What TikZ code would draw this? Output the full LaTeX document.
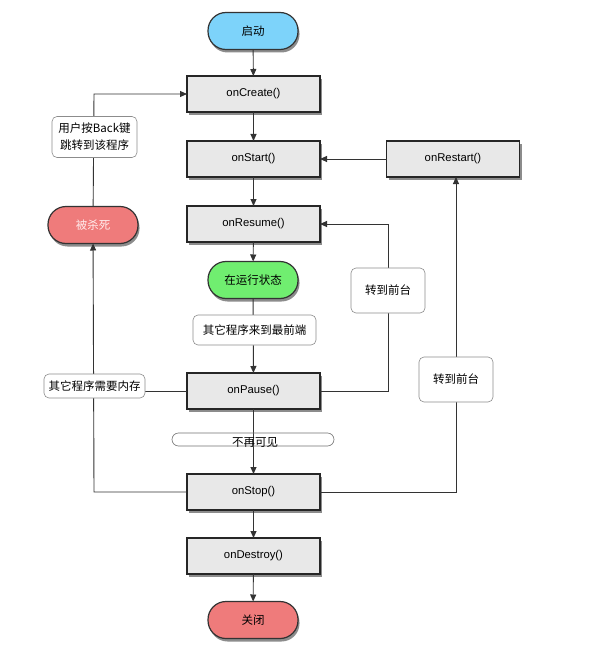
\documentclass[tikz,border=0pt]{standalone}
\usepackage{fontspec}
\setmainfont{Liberation Sans}
\newfontfamily\cjk{Noto Sans CJK SC}
\usetikzlibrary{shadows,arrows.meta}
\definecolor{boxgray}{HTML}{E8E8E8}
\definecolor{startblue}{HTML}{7DD3FA}
\definecolor{rungreen}{HTML}{70EE70}
\definecolor{endred}{HTML}{EF7B7B}
\definecolor{linegray}{HTML}{333333}
\tikzset{
  every node/.style={inner sep=0pt, outer sep=0pt},
  method/.style={draw=black!85, line width=1.2pt, fill=boxgray, minimum width=133pt, minimum height=36pt,
    font=\fontsize{11.3}{13}\selectfont,
    drop shadow={shadow xshift=2pt, shadow yshift=-3pt, fill=black, opacity=0.45}},
  pill/.style={draw=black!80, line width=1.2pt, rounded corners=18pt, minimum width=90pt, minimum height=37pt,
    font=\cjk\fontsize{11.5}{13}\selectfont,
    drop shadow={shadow xshift=1.5pt, shadow yshift=-3pt, fill=black, opacity=0.45}},
  lbl/.style={draw=black!45, line width=0.6pt, fill=white, rounded corners=5pt,
    font=\cjk\fontsize{11.5}{17}\selectfont, align=center},
  conn/.style={draw=linegray, line width=0.9pt},
  arr/.style={conn, -{Triangle[length=7pt,width=6pt]}},
}
\begin{document}
\begin{tikzpicture}[x=1pt,y=-1pt]
\useasboundingbox[fill=white] (0,0) rectangle (601,655);
% main column
\node[pill, fill=startblue] (start) at (253,31) {启动};
\node[method] (create) at (253.5,94) {onCreate()};
\node[method] (startm) at (253.5,159) {onStart()};
\node[method] (restart) at (453,159) {onRestart()};
\node[method] (resume) at (253.5,224) {onResume()};
\node[pill, fill=rungreen] (running) at (253,280) {在运行状态};
\node[method] (pause) at (253.5,391) {onPause()};
\node[method] (stop) at (253.5,492) {onStop()};
\node[method] (destroy) at (253.5,556) {onDestroy()};
\node[pill, fill=endred] (close) at (253,620) {关闭};
\node[pill, fill=endred, text=white!92!red] (killed) at (93,225) {被杀死};
% vertical chain
\draw[arr] (start) -- (create);
\draw[arr] (create) -- (startm);
\draw[arr] (startm) -- (resume);
\draw[arr] (resume) -- (running);
\draw[arr] (running) -- (pause);
\draw[arr] (pause) -- (stop);
\draw[arr] (stop) -- (destroy);
\draw[arr] (destroy) -- (close);
\draw[arr] (restart) -- (startm);
% loops
\coordinate (lkTop) at (94,94);
\coordinate (lkBot) at (94,492);
\coordinate (lkMid) at (94,391);
\coordinate (mrTop) at (388,224);
\coordinate (mrBot) at (388,391);
\coordinate (rtBot) at (456,492);
\draw[arr] (killed) -- (lkTop) -- (create);
\draw[arr] (stop) -- (lkBot) -- (killed);
\draw[conn] (pause) -- (lkMid);
\draw[arr] (pause) -- (mrBot) -- (mrTop) -- (resume);
\draw[arr] (stop) -- (rtBot) -- (rtBot |- restart.south);
% labels
\node[lbl, minimum width=85pt, minimum height=41pt] (lbback) at (94.5,137) {用户按Back键\\跳转到该程序};
\node[lbl, minimum width=123pt, minimum height=30pt] (lbfront) at (254.5,330) {其它程序来到最前端};
\node[lbl, minimum width=101pt, minimum height=24pt] (lbmem) at (94.5,386) {其它程序需要内存};
\node[lbl, minimum width=74pt, minimum height=45pt] (lbfg1) at (388,290.5) {转到前台};
\node[lbl, minimum width=74pt, minimum height=45pt] (lbfg2) at (456,379.5) {转到前台};
\node[draw=black!55, line width=0.6pt, rounded corners=6.5pt, minimum width=162pt, minimum height=13pt] (lbgone) at (253,439.5) {};
\node[font=\cjk\fontsize{11.5}{13}\selectfont] (lbgonetxt) at (255,442) {不再可见};
\end{tikzpicture}
\end{document}
